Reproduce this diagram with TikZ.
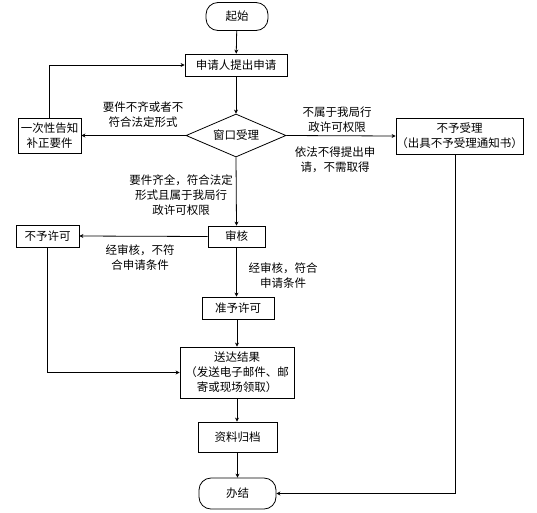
\documentclass[tikz,border=0pt]{standalone}
\usepackage{fontspec}
\usepackage{tikz}
\usetikzlibrary{arrows.meta}
\usetikzlibrary{shapes.geometric}
\newfontfamily\cjk{Noto Sans CJK SC}
\tikzset{
  box/.style={draw, line width=0.8pt, inner sep=0pt, align=center},
  term/.style={box, rounded corners=12pt},
  check/.style={draw, line width=0.8pt, diamond, inner sep=0pt, aspect=2.3},
  lab/.style={align=center, inner sep=0pt},
  flow/.style={line width=0.8pt, -{Stealth[length=4pt,width=4pt]}},
}

\begin{document}
\begin{tikzpicture}[x=1pt, y=-1pt, font=\cjk\fontsize{11.5}{15}\selectfont]
  \useasboundingbox (0,0) rectangle (537,512);
  % main column
  \node[term, minimum width=62pt, minimum height=28pt] (start) at (237,16.5) {起始};
  \node[box, minimum width=102pt, minimum height=22pt] (apply) at (236,65) {申请人提出申请};
  \node[check, minimum width=100pt, minimum height=43pt] (window) at (236,135.5) {窗口受理};
  \node[box, minimum width=57pt, minimum height=21pt] (review) at (236.5,236.5) {审核};
  \node[box, minimum width=72pt, minimum height=22pt] (grant) at (238,308) {准予许可};
  \node[box, minimum width=114pt, minimum height=51pt] (deliver) at (237,372.5) {送达结果\\（发送电子邮件、邮\\寄或现场领取）};
  \node[box, minimum width=79pt, minimum height=30pt] (archive) at (237.5,437) {资料归档};
  \node[term, minimum width=77pt, minimum height=31pt] (finish) at (237.5,493.5) {办结};
  % side boxes
  \node[box, minimum width=63pt, minimum height=35pt] (notify) at (49.5,135.5) {一次性告知\\补正要件};
  \node[box, minimum width=127pt, minimum height=36pt] (reject) at (459.5,136) {不予受理\\（出具不予受理通知书）};
  \node[box, minimum width=63pt, minimum height=22pt] (deny) at (47.5,236) {不予许可};
  % labels
  \node[lab] (labnotify) at (143,114.5) {要件不齐或者不\\符合法定形式};
  \node[lab] (labscope) at (337,120) {不属于我局行\\政许可权限};
  \node[lab] (lablaw) at (335,160) {依法不得提出申\\请，不需取得};
  \node[lab] (labaccept) at (181,195) {要件齐全，符合法定\\形式且属于我局行\\政许可权限};
  \node[lab] (labdeny) at (140,257.5) {经审核，不符\\合申请条件};
  \node[lab] (labgrant) at (283,275.5) {经审核，符合\\申请条件};
  % connectors
  \draw[flow] (start) -- (apply);
  \draw[flow] (apply) -- (window);
  \draw[flow] (window.west) -- (notify.east);
  \draw[flow] (notify.north) |- (apply.west);
  \draw[flow] (window.east) -- (reject.west);
  \draw[flow] (window.south) -- (review.north);
  \draw[flow] (review.west) -- (deny.east);
  \draw[flow] (review.south) -- (review.south |- grant.north);
  \draw[flow] (grant.south -| deliver.north) -- (deliver.north);
  \draw[flow] (deny.south) |- (deliver.west);
  \draw[flow] (deliver.south) -- (deliver.south |- archive.north);
  \draw[flow] (archive) -- (finish);
  \draw[flow] ([xshift=-4pt]reject.south) |- (finish.east);
\end{tikzpicture}
\end{document}
